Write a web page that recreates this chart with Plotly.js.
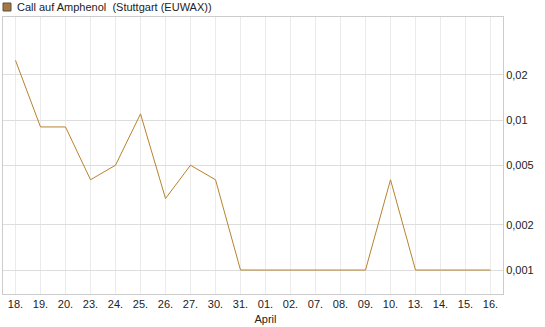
<!DOCTYPE html>
<html>
<head>
<meta charset="utf-8">
<script src="https://cdn.plot.ly/plotly-3.0.1.min.js"></script>
<style>html,body{margin:0;padding:0;background:#fff;}#chart{width:545px;height:327px;}</style>
</head>
<body>
<div id="chart"></div>
<script>
const categories = ["18.","19.","20.","23.","24.","25.","26.","27.","30.","31.","01.","02.","07.","08.","09.","10.","13.","14.","15.","16."];
const tickLabels = ["18.","19.","20.","23.","24.","25.","26.","27.","30.","31.","01.<br>April","02.","07.","08.","09.","10.","13.","14.","15.","16."];
const values = [0.025,0.009,0.009,0.004,0.005,0.011,0.003,0.005,0.004,0.001,0.001,0.001,0.001,0.001,0.001,0.004,0.001,0.001,0.001,0.001];
const yTickVals = [0.001,0.002,0.005,0.01,0.02];
const yTickText = ["0,001","0,002","0,005","0,01","0,02"];
const seriesName = "Call auf Amphenol  (Stuttgart (EUWAX))";

const xIdx = categories.map((c,i)=>i);
const trace = {
  x: xIdx, y: values, type: 'scatter', mode: 'lines',
  line: {color: '#b8822e', width: 1},
  hoverinfo: 'skip', showlegend: false
};
const layout = {
  width: 545, height: 327,
  margin: {l: 3, r: 42, t: 17, b: 33},
  paper_bgcolor: '#fff', plot_bgcolor: '#fff',
  font: {family: '"Liberation Sans", Arial, sans-serif', size: 11, color: '#222'},
  showlegend: false,
  xaxis: {
    range: [-0.5, 19.5], tickvals: xIdx, ticktext: tickLabels,
    showgrid: true, gridcolor: '#ebebeb', gridwidth: 1,
    showline: true, linecolor: '#cccccc', linewidth: 1, mirror: true,
    ticks: '', zeroline: false, fixedrange: true,
    tickfont: {size: 11, color: '#222'}
  },
  yaxis: {
    type: 'log', side: 'right',
    range: [Math.log10(0.000692), Math.log10(0.0487)],
    tickvals: yTickVals, ticktext: yTickText,
    showgrid: true, gridcolor: '#dddddd', gridwidth: 1,
    showline: true, linecolor: '#cccccc', linewidth: 1, mirror: true,
    ticks: '', zeroline: false, fixedrange: true,
    tickfont: {size: 11, color: '#222'}
  },
  shapes: [{
    type: 'rect', xref: 'paper', yref: 'paper',
    xsizemode: 'pixel', ysizemode: 'pixel',
    xanchor: 0, yanchor: 1,
    x0: 0, x1: 8, y0: 6, y1: 14,
    line: {color: '#555', width: 1}, fillcolor: '#a8773a'
  }],
  annotations: [{
    xref: 'paper', yref: 'paper', x: 0, y: 1, xshift: 12, yshift: 10,
    xanchor: 'left', yanchor: 'middle', showarrow: false,
    text: seriesName, font: {size: 11, color: '#222'}
  }]
};
Plotly.newPlot('chart', [trace], layout, {displayModeBar: false, staticPlot: true});
</script>
</body>
</html>
